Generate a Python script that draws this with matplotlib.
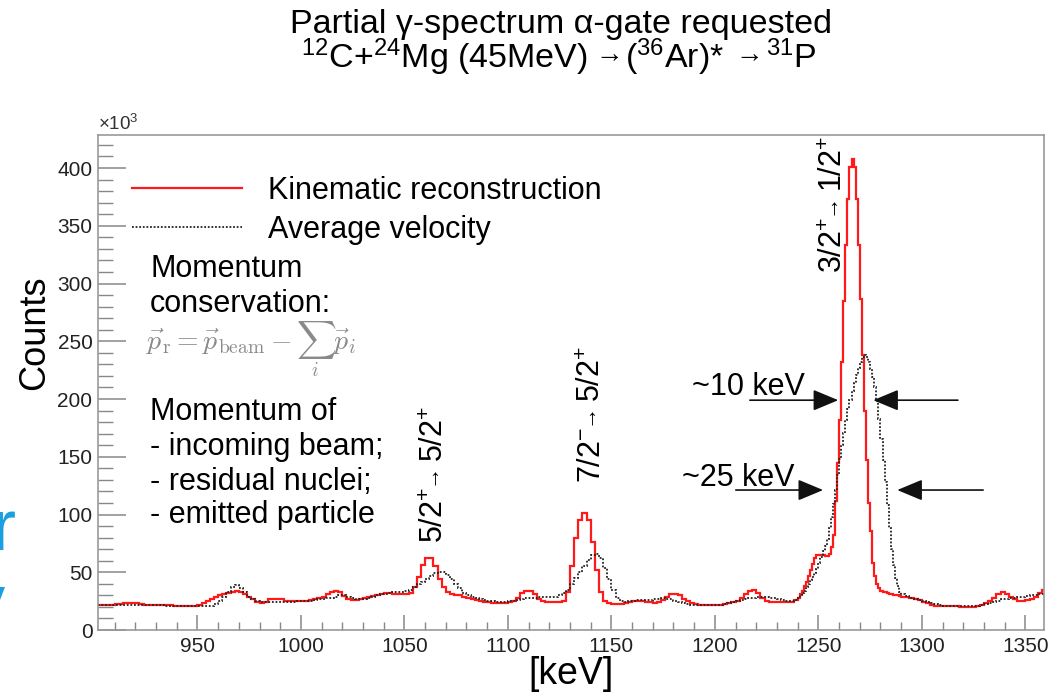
import numpy as np
import matplotlib.pyplot as plt
import matplotlib.transforms as mtransforms

plt.rcParams['font.family'] = ['Liberation Sans', 'DejaVu Sans']
plt.rcParams['mathtext.fontset'] = 'custom'
plt.rcParams['mathtext.rm'] = 'Liberation Sans'
plt.rcParams['mathtext.it'] = 'Liberation Sans:italic'
plt.rcParams['mathtext.bf'] = 'Liberation Sans:bold'

# bin edges [keV]: 2 keV bins, 1 keV around the main line
edges = np.concatenate([np.arange(900, 1240, 2), np.arange(1240, 1290, 1),
                        np.arange(1290, 1361, 2)])

# counts (x10^3), kinematic reconstruction
red_lo = [22, 22, 22, 22, 22, 22.5, 22.5, 23, 23, 23,            # 901-919
          23, 22.5, 22, 22, 22, 22, 22, 21.5, 21.5, 21,          # 921-939
          21, 21, 21, 21, 21, 22, 23.5, 25.5, 27, 29,            # 941-959
          30, 31, 32, 33, 33.5, 33, 31.5, 29, 26.5, 24.5,        # 961-979
          23.5, 24.5, 26.5, 27, 27, 26.5, 25.5, 25, 25, 25,      # 981-999
          25, 25.5, 26, 27, 28, 29, 31, 33, 34, 33,              # 1001-1019
          29.5, 27, 26, 26, 26.5, 27.5, 28.5, 29.5, 30.5, 31.5,  # 1021-1039
          32, 32, 31.5, 31.5, 31.5, 31.5, 32, 37, 46, 56,        # 1041-1059
          62, 62.5, 55, 44, 37, 33, 31, 30, 30, 29,              # 1061-1079
          28, 27, 26, 25, 24.5, 24, 23.5, 23.5, 23.5, 23.5,      # 1081-1099
          24, 25, 28, 32, 34, 34, 31, 27, 25, 24.5,              # 1101-1119
          24, 24, 24, 25, 33, 55, 80, 95, 101, 95,               # 1121-1139
          76, 52, 33, 25, 23, 22.5, 22.5, 22.5, 23, 24,          # 1141-1159
          25, 25.5, 25, 24.5, 24, 23.5, 24, 26, 29, 31,          # 1161-1179
          31.5, 30, 27, 25, 23.5, 22.5, 22, 21.5, 21.5, 21.5,    # 1181-1199
          22, 22, 22.5, 23, 24, 25.5, 28, 31.5, 34, 34.5,        # 1201-1219
          32, 28, 25.5, 24.5, 24, 24, 24, 24, 24.5, 26]          # 1221-1239
red_mid = [28, 31, 34, 38, 42, 47, 52, 57, 62, 65,               # 1240-1249
           65, 65, 65, 64, 64, 66, 72, 82, 112, 145,             # 1250-1259
           182, 232, 285, 333, 373, 401, 408, 401, 373, 333,     # 1260-1269
           287, 238, 190, 147, 110, 86, 58, 47, 40, 36,          # 1270-1279
           34, 33, 32.5, 32, 31.5, 31, 30.5, 30, 30, 29.5]       # 1280-1289
red_hi = [29, 28.5, 28, 27, 26, 24.5, 23, 22, 21, 20.5,          # 1291-1309
          20.5, 20.5, 20.5, 20.5, 20, 20, 20, 20, 20.5, 21.5,    # 1311-1329
          23, 25, 28, 31, 32.5, 31.5, 29, 26.5, 25.5, 25.5,      # 1331-1349
          26, 27, 29, 32, 35]                                    # 1351-1359

# counts (x10^3), average velocity
blk_lo = [21.5, 21.5, 21.5, 21.5, 21.5, 21.5, 22, 22, 22, 22,    # 901-919
          22, 22, 21.5, 21.5, 21.5, 21.5, 21.5, 21, 21, 21,      # 921-939
          21, 20.5, 20.5, 20.5, 20.5, 20.5, 20.5, 20.5, 21, 22.5,  # 941-959
          25, 28.5, 33, 37.5, 39, 36.5, 32.5, 29, 26.5, 25,      # 961-979
          24, 24, 24, 24, 24, 24, 24, 24.5, 24.5, 25,            # 981-999
          25, 25, 25.5, 26, 26.5, 27, 27.5, 28, 29, 30,          # 1001-1019
          30, 29, 28, 27, 26.5, 27, 28, 29, 30, 31,              # 1021-1039
          31.5, 32, 32.5, 33, 33, 33.5, 35, 37, 39.5, 42,        # 1041-1059
          44.5, 47, 49, 50.5, 50.5, 48, 44, 40, 36, 32,          # 1061-1079
          30, 28.5, 27.5, 26.5, 26, 25.5, 25, 24.5, 24.5, 24.5,  # 1081-1099
          25, 25.5, 26, 27, 27.5, 28, 28, 28.5, 28.5, 28.5,      # 1101-1119
          28.5, 29, 30, 32, 35, 40, 45, 50, 55, 61,              # 1121-1139
          65, 66, 62, 54, 44, 35, 28, 25, 24.5, 25,              # 1141-1159
          25.5, 26, 26, 26, 26, 26.5, 27, 27.5, 27, 26.5,        # 1161-1179
          25.5, 24, 23, 22.5, 22, 21.5, 21.5, 21.5, 21.5, 21.5,  # 1181-1199
          21.5, 22, 22.5, 23, 24, 25, 26, 27, 27.5, 28,          # 1201-1219
          28.5, 28.5, 28.5, 28, 27.5, 27, 26, 25.5, 25, 26]      # 1221-1239
blk_mid = [28, 30, 32, 34, 37, 40, 43, 46, 49, 53,               # 1240-1249
           58, 63, 68, 73, 79, 88, 98, 109, 121, 134,            # 1250-1259
           148, 160, 171, 182, 191, 199, 207, 214, 221, 227,     # 1260-1269
           232, 236, 238, 236, 232, 226, 219, 210, 198, 183,     # 1270-1279
           165, 147, 128, 108, 88, 70, 56, 45, 38, 33]           # 1280-1289
blk_hi = [31, 29.5, 28, 27, 26, 25, 24.5, 23.5, 22.5, 21.5,      # 1291-1309
          21, 21, 20.5, 20.5, 20.5, 20.5, 20.5, 20.5, 21, 21.5,  # 1311-1329
          22.5, 23.5, 24.5, 25.5, 26.5, 27, 27.5, 28, 28.5, 29,  # 1331-1349
          29.5, 30, 30.5, 31, 31.5]                              # 1351-1359

red = np.array(red_lo + red_mid + red_hi)
blk = np.array(blk_lo + blk_mid + blk_hi)

ARROW = u'\u2192'
# transition labels: (lower part, upper part)
peak_labels = [("5/2$^{+}$", "5/2$^{+}$"),
               ("7/2$^{-}$", "5/2$^{+}$"),
               ("3/2$^{+}$", "1/2$^{+}$")]
peak_x = [1068.6, 1144.4, 1261.2]    # baseline of rotated text
peak_y = [75, 127, 309]              # start of text

# width arrows: (y, tail, tip)
arrows = [(199, 1216.9, 1259.6), (199, 1317.4, 1276.5),
          (121.2, 1210.1, 1252.3), (121.2, 1329.6, 1288.1)]
width_text = ["~10 keV", "~25 keV"]
width_text_pos = [(1188.9, 203.5), (1183.9, 124.5)]

FS = 22

fig = plt.figure(figsize=(10.52, 6.97), dpi=100)
ax = fig.add_axes([0.0932, 0.0961, 0.8992, 0.7102])
renderer = fig.canvas.get_renderer()

ax.stairs(red, edges, color='#ff1a1a', lw=1.6, label='Kinematic reconstruction')
ax.stairs(blk, edges, color='#222222', lw=1.3, linestyle=(0, (1, 1)),
          label='Average velocity')

ax.set_xlim(902, 1359)
ax.set_ylim(0, 428.6)
ax.set_xticks(np.arange(950, 1351, 50))
ax.set_xticks(np.arange(910, 1359, 10), minor=True)
ax.set_yticks(np.arange(0, 401, 50))
ax.set_yticks(np.arange(0, 428, 10), minor=True)
ax.tick_params(axis='both', which='both', direction='in', color='#888888',
               labelcolor='#222222', labelsize=15, top=False, right=False)
ax.tick_params(axis='x', which='major', length=10.8, width=1.1, pad=5)
ax.tick_params(axis='x', which='minor', length=5.8, width=1.0)
ax.tick_params(axis='y', which='major', length=20, width=1.1, pad=4)
ax.tick_params(axis='y', which='minor', length=10.8, width=1.0)
for s in ax.spines.values():
    s.set_color('#999999')
    s.set_linewidth(1.2)

ax.set_xlabel('[keV]', fontsize=27, labelpad=0)
ax.set_ylabel('Counts', fontsize=26)
ax.yaxis.set_label_coords(-0.049, 0.6)
ax.text(0.0, 1.003, r'$\times$10$^{3}$', transform=ax.transAxes, fontsize=13.5,
        color='#333333', ha='left', va='bottom')

ax.legend(loc='upper left', bbox_to_anchor=(0.036, 0.918), frameon=False,
          fontsize=FS, handlelength=3.6, handletextpad=0.85, labelspacing=0.3,
          borderpad=0, borderaxespad=0)

# annotation block
ax.text(0.055, 0.714, 'Momentum', transform=ax.transAxes, fontsize=FS)
ax.text(0.055, 0.643, 'conservation:', transform=ax.transAxes, fontsize=FS)
ax.text(0.051, 0.566, r'$\vec{p}_{\rm r} = \vec{p}_{\rm beam} - \sum_{i}\vec{p}_{i}$',
        transform=ax.transAxes, fontsize=20, color='#8a8a8a', math_fontfamily='cm',
        va='baseline')
for txt, yy in zip(['Momentum of', '- incoming beam;', '- residual nuclei;',
                    '- emitted particle'], [0.424, 0.354, 0.283, 0.216]):
    ax.text(0.055, yy, txt, transform=ax.transAxes, fontsize=FS)

# rotated transition labels, built piece by piece so the arrow can be small
for (lo, hi), xx, yy in zip(peak_labels, peak_x, peak_y):
    off = 0.0
    for s, fs, lift, gap in [(lo, FS, 0, 2), (ARROW, 16, 7, 1), (hi, FS, 0, 0)]:
        tr = mtransforms.offset_copy(ax.transData, fig=fig, x=-lift, y=off, units='dots')
        t = ax.text(xx, yy, s, rotation=90, rotation_mode='anchor', ha='left',
                    va='baseline', fontsize=fs, transform=tr)
        off += t.get_window_extent(renderer).height + gap

for (yy, x0, x1) in arrows:
    ax.annotate('', xy=(x1, yy), xytext=(x0, yy),
                arrowprops=dict(arrowstyle='-|>,head_length=0.6,head_width=0.25',
                                mutation_scale=26, color='#111111', lw=1.2,
                                shrinkA=0, shrinkB=0))
for txt, (xx, yy) in zip(width_text, width_text_pos):
    ax.text(xx, yy, txt, fontsize=FS, ha='left', va='baseline')

# title
TS = 24.5
fig.text(0.533, 1 - 33 / 697, u'Partial \u03b3-spectrum \u03b1-gate requested',
         ha='center', va='baseline', fontsize=TS)
title2 = [(r'$^{12}$C+$^{24}$Mg (45MeV)', TS, 0, 8), (ARROW, 20, 6, 2),
          (r'($^{36}$Ar)*', TS, 0, 11), (ARROW, 20, 6, 3), (r'$^{31}$P', TS, 0, 0)]
pieces = []
off = 0.0
for s, fs, lift, gap in title2:
    t = fig.text(0.531, 1 - 68 / 697, s, ha='left', va='baseline', fontsize=fs)
    pieces.append((t, off, lift))
    off += t.get_window_extent(renderer).width + gap
for t, o, lift in pieces:
    t.set_transform(mtransforms.offset_copy(fig.transFigure, fig=fig,
                                            x=o - off / 2, y=lift, units='dots'))

# cut-off slide text at the left edge
fig.text(15 / 1052, 1 - 550 / 697, 'r', color='#1a9fe0', fontsize=52,
         ha='right', va='baseline')
fig.text(5 / 1052, 1 - 625 / 697, 'y', color='#1a9fe0', fontsize=52,
         ha='right', va='baseline')

fig.savefig('out.png', dpi=100)
